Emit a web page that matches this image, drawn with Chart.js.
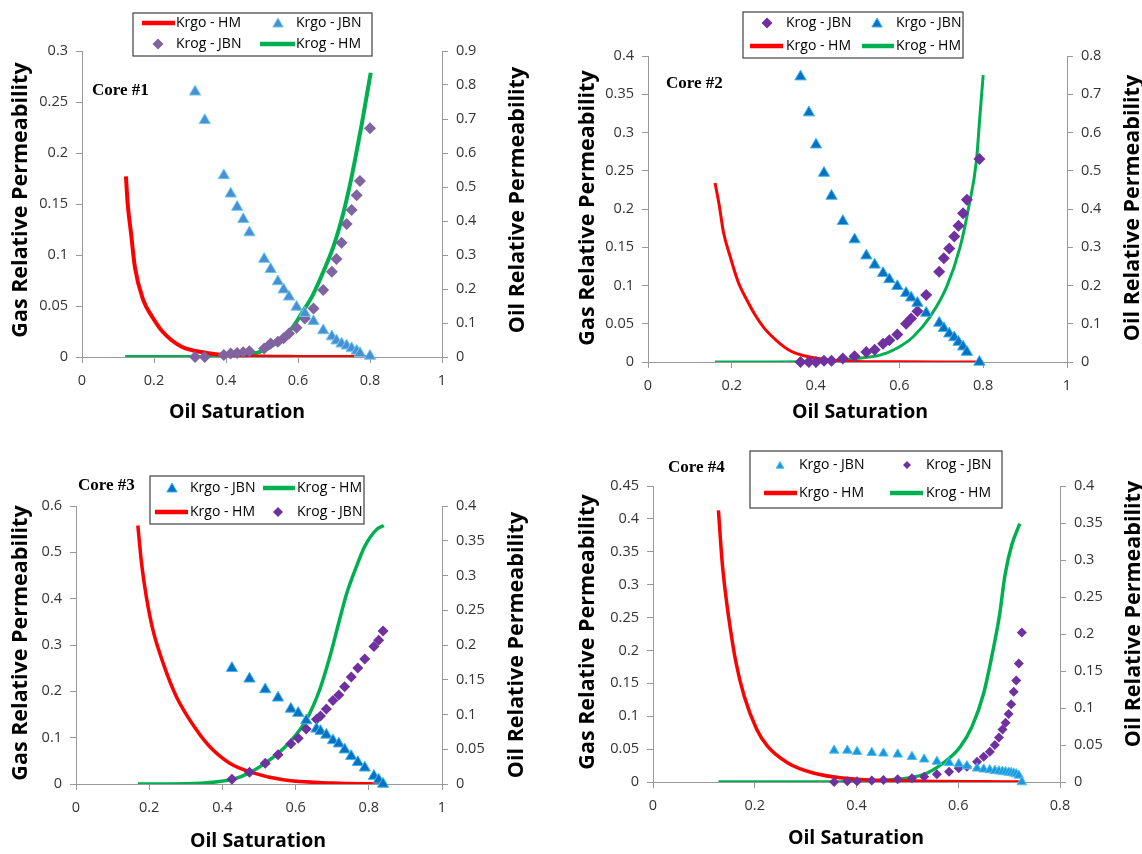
<!DOCTYPE html>
<html>
<head>
<meta charset="utf-8">
<script src="https://cdn.jsdelivr.net/npm/chart.js@4.4.1/dist/chart.umd.min.js"></script>
<style>
html, body { margin: 0; padding: 0; background: #fff; }
.panel { position: absolute; width: 571px; height: 427px; }
</style>
</head>
<body>
<div class="panel" style="left:0;top:0"><canvas id="core1"></canvas></div>
<div class="panel" style="left:571px;top:0"><canvas id="core2"></canvas></div>
<div class="panel" style="left:0;top:427px"><canvas id="core3"></canvas></div>
<div class="panel" style="left:571px;top:427px"><canvas id="core4"></canvas></div>
<script>
// ---- Core #1 ----
const c1Sat = [0.314, 0.341, 0.394, 0.413, 0.431, 0.448, 0.465, 0.506, 0.524, 0.544, 0.560, 0.575, 0.596, 0.619, 0.643, 0.670, 0.694, 0.707, 0.721, 0.735, 0.749, 0.763, 0.772, 0.800];
const c1KrgoJbn = [0.260, 0.232, 0.178, 0.160, 0.147, 0.135, 0.122, 0.096, 0.086, 0.074, 0.066, 0.059, 0.049, 0.043, 0.035, 0.026, 0.020, 0.016, 0.013, 0.011, 0.0085, 0.006, 0.0036, 0.001];
const c1KrogJbn = [0, 0, 0.006, 0.010, 0.012, 0.014, 0.017, 0.025, 0.040, 0.045, 0.055, 0.069, 0.086, 0.113, 0.143, 0.197, 0.251, 0.288, 0.336, 0.391, 0.432, 0.476, 0.518, 0.673];
const c1KrgoHmSat = [0.122, 0.127, 0.136, 0.147, 0.170, 0.194, 0.226, 0.277, 0.346, 0.42, 0.5, 0.6, 0.7, 0.8];
const c1KrgoHm = [0.177, 0.150, 0.122, 0.088, 0.056, 0.040, 0.024, 0.010, 0.004, 0.0012, 0.0004, 0.0001, 0, 0];
const c1KrogHmSat = [0.12, 0.30, 0.40, 0.45, 0.494, 0.541, 0.587, 0.614, 0.640, 0.670, 0.700, 0.725, 0.745, 0.762, 0.778, 0.802];
const c1KrogHm = [0, 0, 0.003, 0.007, 0.015, 0.042, 0.090, 0.135, 0.18, 0.25, 0.33, 0.42, 0.51, 0.60, 0.69, 0.836];

// ---- Core #2 ----
const c2Sat = [0.364, 0.384, 0.401, 0.420, 0.438, 0.465, 0.493, 0.521, 0.541, 0.561, 0.576, 0.595, 0.616, 0.628, 0.643, 0.664, 0.695, 0.706, 0.719, 0.731, 0.741, 0.752, 0.761, 0.791];
const c2KrgoJbn = [0.373, 0.326, 0.284, 0.247, 0.217, 0.184, 0.160, 0.139, 0.127, 0.116, 0.108, 0.099, 0.090, 0.084, 0.077, 0.064, 0.051, 0.044, 0.037, 0.032, 0.026, 0.020, 0.013, 0];
const c2KrogJbn = [0, 0, 0, 0.003, 0.003, 0.009, 0.015, 0.026, 0.032, 0.048, 0.057, 0.072, 0.100, 0.114, 0.133, 0.175, 0.236, 0.271, 0.297, 0.328, 0.356, 0.389, 0.424, 0.531];
const c2KrgoHmSat = [0.160, 0.170, 0.180, 0.196, 0.215, 0.236, 0.255, 0.275, 0.295, 0.315, 0.335, 0.355, 0.395, 0.45, 0.5, 0.6, 0.7, 0.8];
const c2KrgoHm = [0.234, 0.205, 0.170, 0.138, 0.105, 0.081, 0.062, 0.046, 0.034, 0.024, 0.016, 0.011, 0.0056, 0.002, 0.0008, 0.0002, 0, 0];
const c2KrogHmSat = [0.16, 0.30, 0.40, 0.45, 0.498, 0.554, 0.594, 0.633, 0.673, 0.713, 0.745, 0.764, 0.784, 0.792, 0.80];
const c2KrogHm = [0, 0, 0.001, 0.004, 0.0096, 0.018, 0.036, 0.066, 0.118, 0.197, 0.301, 0.397, 0.528, 0.641, 0.75];

// ---- Core #3 ----
const c3Sat = [0.426, 0.474, 0.517, 0.552, 0.587, 0.607, 0.629, 0.657, 0.668, 0.684, 0.702, 0.718, 0.734, 0.752, 0.770, 0.789, 0.814, 0.827, 0.839];
const c3KrgoJbn = [0.250, 0.227, 0.204, 0.186, 0.162, 0.153, 0.137, 0.119, 0.114, 0.106, 0.094, 0.087, 0.074, 0.060, 0.047, 0.035, 0.017, 0.009, 0];
const c3KrogJbn = [0.007, 0.017, 0.030, 0.042, 0.058, 0.066, 0.079, 0.093, 0.098, 0.108, 0.120, 0.128, 0.140, 0.154, 0.167, 0.180, 0.198, 0.207, 0.220];
const c3KrgoHmSat = [0.169, 0.179, 0.192, 0.210, 0.238, 0.274, 0.329, 0.365, 0.42, 0.484, 0.566, 0.702, 0.839];
const c3KrgoHm = [0.558, 0.477, 0.405, 0.333, 0.261, 0.189, 0.117, 0.081, 0.045, 0.024, 0.009, 0.002, 0];
const c3KrogHmSat = [0.169, 0.30, 0.38, 0.43, 0.474, 0.517, 0.552, 0.587, 0.629, 0.666, 0.693, 0.716, 0.739, 0.770, 0.789, 0.821, 0.841];
const c3KrogHm = [0, 0.0005, 0.003, 0.007, 0.016, 0.030, 0.044, 0.062, 0.092, 0.136, 0.182, 0.228, 0.273, 0.318, 0.342, 0.366, 0.372];

// ---- Core #4 ----
const c4Sat = [0.356, 0.382, 0.401, 0.430, 0.453, 0.481, 0.509, 0.533, 0.558, 0.582, 0.601, 0.617, 0.637, 0.650, 0.662, 0.672, 0.680, 0.687, 0.693, 0.699, 0.704, 0.709, 0.714, 0.719, 0.725];
const c4KrgoJbn = [0.048, 0.048, 0.046, 0.0446, 0.0436, 0.042, 0.0385, 0.0345, 0.031, 0.0294, 0.0274, 0.0243, 0.0208, 0.0193, 0.0182, 0.0172, 0.0165, 0.0158, 0.0152, 0.0146, 0.0140, 0.0132, 0.0120, 0.0100, 0];
const c4KrogJbn = [0, 0.0009, 0.001, 0.002, 0.0027, 0.0036, 0.005, 0.0072, 0.0104, 0.014, 0.0185, 0.0207, 0.0274, 0.034, 0.041, 0.050, 0.060, 0.071, 0.080, 0.092, 0.105, 0.122, 0.137, 0.160, 0.202];
const c4KrgoHmSat = [0.1286, 0.136, 0.143, 0.152, 0.163, 0.179, 0.204, 0.225, 0.265, 0.315, 0.373, 0.445, 0.55, 0.65, 0.721];
const c4KrgoHm = [0.413, 0.334, 0.284, 0.233, 0.182, 0.131, 0.080, 0.0545, 0.029, 0.0137, 0.006, 0.0025, 0.0008, 0.0002, 0];
const c4KrogHmSat = [0.1286, 0.35, 0.42, 0.46, 0.499, 0.538, 0.578, 0.604, 0.627, 0.650, 0.666, 0.681, 0.692, 0.705, 0.721];
const c4KrogHm = [0, 0, 0.001, 0.0025, 0.005, 0.0118, 0.0297, 0.0477, 0.0748, 0.12, 0.17, 0.225, 0.28, 0.32, 0.349];

const FONT = '"Open Sans", sans-serif';
const RED = '#FF0000';
const GREEN = '#00B050';
const H = 427;

function pts(xs, ys) {
    return xs.map((x, i) => ({ x: x, y: ys[i] }));
}

function fmt(v) {
    return String(Math.round(v * 1000) / 1000);
}

function tri(ctx, x, y, r, fill, edge) {
    ctx.beginPath();
    for (let k = 0; k < 3; k++) {
        const a = k * 2 * Math.PI / 3;
        const px = x + Math.sin(a) * r, py = y - Math.cos(a) * r;
        if (k === 0) ctx.moveTo(px, py); else ctx.lineTo(px, py);
    }
    ctx.closePath();
    ctx.fillStyle = fill;
    ctx.fill();
    ctx.strokeStyle = edge;
    ctx.lineWidth = 1;
    ctx.stroke();
}

function dia(ctx, x, y, r, fill) {
    ctx.beginPath();
    ctx.moveTo(x, y - r);
    ctx.lineTo(x + r, y);
    ctx.lineTo(x, y + r);
    ctx.lineTo(x - r, y);
    ctx.closePath();
    ctx.fillStyle = fill;
    ctx.fill();
}

function rotText(ctx, text, x, y) {
    ctx.save();
    ctx.translate(x, y);
    ctx.rotate(-Math.PI / 2);
    ctx.fillText(text, 0, 0);
    ctx.restore();
}

// titles, core label and the boxed legend
function panelText(p) {
    return {
        id: 'panelText',
        afterDraw(chart) {
            const ctx = chart.ctx;
            ctx.save();
            ctx.fillStyle = '#000';
            ctx.textAlign = 'center';
            ctx.textBaseline = 'middle';
            ctx.font = 'bold 21.5px ' + FONT;
            rotText(ctx, 'Gas Relative Permeability', p.yTitle[0], p.yTitle[1]);
            rotText(ctx, 'Oil Relative Permeability', p.y2Title[0], p.y2Title[1]);
            ctx.font = 'bold 19.5px ' + FONT;
            ctx.fillText('Oil Saturation', p.xTitle[0], p.xTitle[1]);

            ctx.textAlign = 'left';
            ctx.font = 'bold 17px "Liberation Serif", serif';
            ctx.fillText(p.name, p.core[0], p.core[1]);

            const b = p.box;
            ctx.fillStyle = '#fff';
            ctx.fillRect(b[0], b[1], b[2] - b[0], b[3] - b[1]);
            ctx.strokeStyle = '#404040';
            ctx.lineWidth = 1.2;
            ctx.strokeRect(b[0], b[1], b[2] - b[0], b[3] - b[1]);

            ctx.font = '14px ' + FONT;
            p.items.forEach(it => {
                if (it.kind === 'red' || it.kind === 'green') {
                    ctx.strokeStyle = it.kind === 'red' ? RED : GREEN;
                    ctx.lineWidth = 4.5;
                    ctx.beginPath();
                    ctx.moveTo(it.x, it.y);
                    ctx.lineTo(it.x2, it.y);
                    ctx.stroke();
                } else if (it.kind === 'tri') {
                    tri(ctx, it.x, it.y + 1, p.legTri, p.triFill, p.triEdge);
                } else {
                    dia(ctx, it.x, it.y, p.legDia, p.diaFill);
                }
                ctx.fillStyle = '#000';
                ctx.fillText(it.text, it.tx, it.y);
            });
            ctx.restore();
        }
    };
}

function axis(extra) {
    return Object.assign({
        type: 'linear',
        min: 0,
        grid: { drawOnChartArea: false, drawTicks: true, tickLength: 6, color: '#999', lineWidth: 1 },
        border: { display: true, color: '#999', width: 1 },
        ticks: { color: '#333', font: { family: FONT, size: 14.5 }, autoSkip: false, maxRotation: 0, callback: fmt }
    }, extra);
}

function makePanel(p) {
    const a = p.area;
    const y = axis({ position: 'left', max: p.yMax, afterFit: s => { s.width = a.left; s.paddingTop = 0; s.paddingBottom = 0; } });
    y.ticks.stepSize = p.yStep; y.ticks.padding = 8;
    const y2 = axis({ position: 'right', max: p.y2Max, afterFit: s => { s.width = 571 - a.right; s.paddingTop = 0; s.paddingBottom = 0; } });
    y2.ticks.stepSize = p.y2Step; y2.ticks.padding = 8;
    const x = axis({ position: 'bottom', max: p.xMax, afterFit: s => { s.height = H - a.bottom; s.paddingLeft = 0; s.paddingRight = 0; } });
    x.ticks.stepSize = 0.2; x.ticks.padding = 9;

    new Chart(document.getElementById(p.id), {
        type: 'scatter',
        data: {
            datasets: [
                { label: 'Krgo - JBN', data: pts(p.sat, p.krgoJbn), yAxisID: 'y', pointStyle: 'triangle', pointRadius: p.triR,
                  backgroundColor: p.triFill, borderColor: p.triEdge, borderWidth: 1, clip: false },
                { label: 'Krog - JBN', data: pts(p.sat, p.krogJbn), yAxisID: 'y2', pointStyle: 'rectRot', pointRadius: p.diaR,
                  backgroundColor: p.diaFill, borderWidth: 0, clip: false },
                { label: 'Krgo - HM', data: pts(p.krgoHmSat, p.krgoHm), yAxisID: 'y', showLine: true, pointRadius: 0,
                  borderColor: RED, borderWidth: p.lineW, cubicInterpolationMode: 'monotone' },
                { label: 'Krog - HM', data: pts(p.krogHmSat, p.krogHm), yAxisID: 'y2', showLine: true, pointRadius: 0,
                  borderColor: GREEN, borderWidth: p.lineW, cubicInterpolationMode: 'monotone' }
            ]
        },
        options: {
            responsive: true,
            maintainAspectRatio: false,
            animation: false,
            events: [],
            layout: { padding: { top: a.top, left: 0, right: 0, bottom: 0 } },
            plugins: { legend: { display: false }, tooltip: { enabled: false } },
            scales: { x: x, y: y, y2: y2 }
        },
        plugins: [panelText(p)]
    });
}

makePanel({
    id: 'core1', name: 'Core #1',
    sat: c1Sat, krgoJbn: c1KrgoJbn, krogJbn: c1KrogJbn,
    krgoHmSat: c1KrgoHmSat, krgoHm: c1KrgoHm, krogHmSat: c1KrogHmSat, krogHm: c1KrogHm,
    xMax: 1, yMax: 0.3, yStep: 0.05, y2Max: 0.9, y2Step: 0.1,
    area: { left: 82, right: 442, top: 51, bottom: 357 },
    yTitle: [21, 200], y2Title: [518, 200], xTitle: [237, 412], core: [92, 91],
    triR: 6.5, diaR: 6, triFill: '#4A8FD2', triEdge: '#6CC8F0', diaFill: '#8064A2', lineW: 4,
    legTri: 6, legDia: 5.5,
    box: [133, 13, 372, 56],
    items: [
        { kind: 'red', x: 142, x2: 175, y: 23, text: 'Krgo - HM', tx: 176 },
        { kind: 'tri', x: 278, y: 23, text: 'Krgo - JBN', tx: 296 },
        { kind: 'dia', x: 158, y: 44, text: 'Krog - JBN', tx: 176 },
        { kind: 'green', x: 260, x2: 295, y: 44, text: 'Krog - HM', tx: 296 }
    ]
});

makePanel({
    id: 'core2', name: 'Core #2',
    sat: c2Sat, krgoJbn: c2KrgoJbn, krogJbn: c2KrogJbn,
    krgoHmSat: c2KrgoHmSat, krgoHm: c2KrgoHm, krogHmSat: c2KrogHmSat, krogHm: c2KrogHm,
    xMax: 1, yMax: 0.4, yStep: 0.05, y2Max: 0.8, y2Step: 0.1,
    area: { left: 77, right: 496, top: 56, bottom: 362 },
    yTitle: [17, 208], y2Title: [562, 208], xTitle: [289, 412], core: [95, 84],
    triR: 6.5, diaR: 6, triFill: '#0A70C0', triEdge: '#3DB5F0', diaFill: '#7030A0', lineW: 3,
    legTri: 6, legDia: 5.5,
    box: [172, 12, 392, 58],
    items: [
        { kind: 'dia', x: 196, y: 23, text: 'Krog - JBN', tx: 215 },
        { kind: 'tri', x: 306, y: 23, text: 'Krgo - JBN', tx: 325 },
        { kind: 'red', x: 179, x2: 212, y: 46, text: 'Krgo - HM', tx: 215 },
        { kind: 'green', x: 291, x2: 323, y: 46, text: 'Krog - HM', tx: 325 }
    ]
});

makePanel({
    id: 'core3', name: 'Core #3',
    sat: c3Sat, krgoJbn: c3KrgoJbn, krogJbn: c3KrogJbn,
    krgoHmSat: c3KrgoHmSat, krgoHm: c3KrgoHm, krogHmSat: c3KrogHmSat, krogHm: c3KrogHm,
    xMax: 1, yMax: 0.6, yStep: 0.1, y2Max: 0.4, y2Step: 0.05,
    area: { left: 76, right: 442, top: 79, bottom: 357 },
    yTitle: [21, 216], y2Title: [517, 218], xTitle: [258, 414], core: [78, 59],
    triR: 6.5, diaR: 5.5, triFill: '#0A70C0', triEdge: '#3DB5F0', diaFill: '#7030A0', lineW: 3.5,
    legTri: 6, legDia: 5,
    box: [150, 49, 364, 97],
    items: [
        { kind: 'tri', x: 172, y: 61, text: 'Krgo - JBN', tx: 190 },
        { kind: 'green', x: 263, x2: 295, y: 61, text: 'Krog - HM', tx: 297 },
        { kind: 'red', x: 155, x2: 188, y: 85, text: 'Krgo - HM', tx: 190 },
        { kind: 'dia', x: 278, y: 85, text: 'Krog - JBN', tx: 297 }
    ]
});

makePanel({
    id: 'core4', name: 'Core #4',
    sat: c4Sat, krgoJbn: c4KrgoJbn, krogJbn: c4KrogJbn,
    krgoHmSat: c4KrgoHmSat, krgoHm: c4KrgoHm, krogHmSat: c4KrogHmSat, krogHm: c4KrogHm,
    xMax: 0.8, yMax: 0.45, yStep: 0.05, y2Max: 0.4, y2Step: 0.05,
    area: { left: 82, right: 489, top: 59, bottom: 355 },
    yTitle: [17, 205], y2Title: [563, 187], xTitle: [285, 411], core: [97, 41],
    triR: 5.5, diaR: 5, triFill: '#1A96DA', triEdge: '#4FC0F0', diaFill: '#7030A0', lineW: 3.5,
    legTri: 4.5, legDia: 4,
    box: [179, 24, 431, 81],
    items: [
        { kind: 'tri', x: 209, y: 38, text: 'Krgo - JBN', tx: 228 },
        { kind: 'dia', x: 336, y: 38, text: 'Krog - JBN', tx: 355 },
        { kind: 'red', x: 193, x2: 226, y: 66, text: 'Krgo - HM', tx: 228 },
        { kind: 'green', x: 319, x2: 352, y: 66, text: 'Krog - HM', tx: 355 }
    ]
});
</script>
</body>
</html>
